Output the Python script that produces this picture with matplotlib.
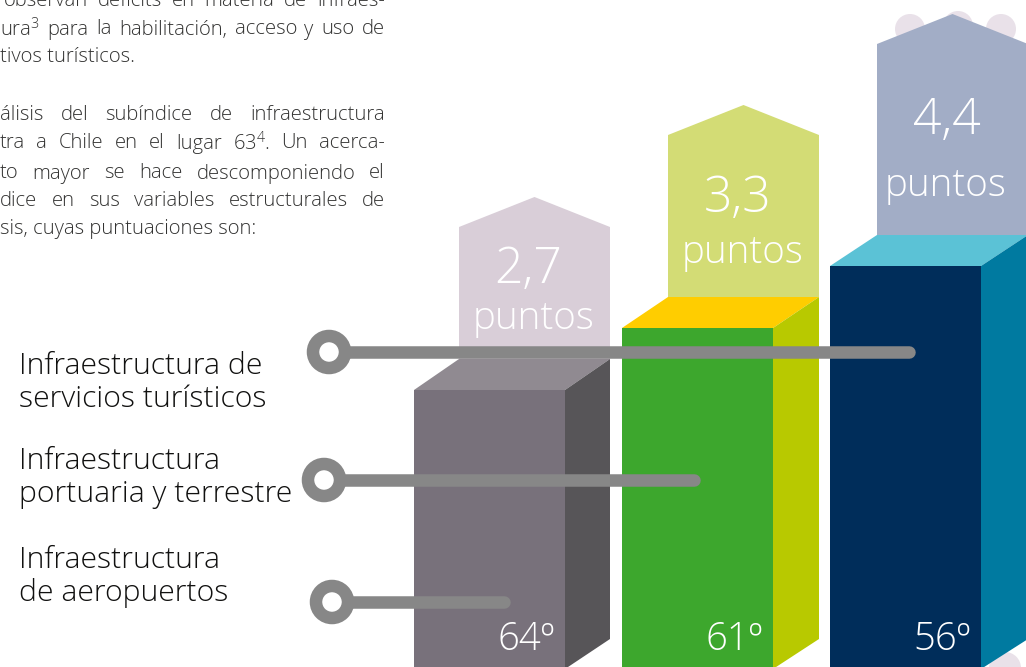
import matplotlib
matplotlib.use('Agg')
import matplotlib.pyplot as plt
from matplotlib.patches import Polygon, Circle

plt.rcParams['font.family'] = ['Open Sans', 'DejaVu Sans']
plt.rcParams['mathtext.default'] = 'regular'

# chart values
puntos = ['2,7', '3,3', '4,4']
rankings = ['64º', '61º', '56º']
bar_tops = [390, 328, 266]
bar_lefts = [414, 622, 830]
house_tops = [197, 105, 14]
house_bottoms = [360, 297, 235]
number_y = [270, 199, 121]
puntos_y = [319, 253, 186]
depths = [45, 46, 47]

front_colors = ['#78717b', '#3da72d', '#002d5a']
top_colors = ['#908a91', '#ffcd00', '#5bc2d6']
side_colors = ['#575558', '#b8c900', '#007aa0']
house_colors = ['#d9ced8', '#d3dc75', '#a2adc6']

labels = [['Infraestructura de', 'servicios turísticos'],
          ['Infraestructura', 'portuaria y terrestre'],
          ['Infraestructura', 'de aeropuertos']]
label_y = [366, 461, 560]
ring_x = [329, 324, 332]
ring_y = [352, 480, 602]
line_end = [909, 694, 504]

body_lines = [('observan déficits en materia de infraes-', 4, -2, True),
              ('ura$^{3}$  para la habilitación, acceso y uso de', 0, 27, True),
              ('tivos turísticos.', 0, 57, False),
              ('álisis del subíndice de infraestructura', 0, 112, True),
              ('tra a Chile en el lugar 63$^{4}$. Un acerca-', 0, 141, True),
              ('to mayor se hace descomponiendo el', 0, 171, True),
              ('dice en sus variables estructurales de', 0, 198, True),
              ('sis, cuyas puntuaciones son:', 0, 229, False)]
body_right = 385
body_size = 14.6

fig = plt.figure(figsize=(10.26, 6.67), dpi=100)
ax = fig.add_axes([0, 0, 1, 1])
ax.set_xlim(0, 1026)
ax.set_ylim(667, 0)
ax.axis('off')


def justified(text, x0, y, stretch):
    if not stretch:
        ax.text(x0, y, text, fontsize=body_size, color='#333332', va='center', ha='left', fontweight='light')
        return
    renderer = fig.canvas.get_renderer()
    words = text.split()
    items = [ax.text(x0, y, w, fontsize=body_size, color='#333332', va='center_baseline', ha='left',
                     fontweight='light') for w in words]
    widths = [t.get_window_extent(renderer).width for t in items]
    gap = (body_right - x0 - sum(widths)) / (len(words) - 1)
    x = x0
    for t, w in zip(items, widths):
        t.set_x(x)
        x += w + gap


for text, x0, y, stretch in body_lines:
    justified(text, x0, y, stretch)

# pale dots behind the tallest house and in the bottom corner
for cx, cy, r in [(910, 29, 15), (958, 26, 15), (1001, 29, 15), (1005, 668, 16)]:
    ax.add_patch(Circle((cx, cy), r, fc='#e9e1e9', ec='none', zorder=1))

depth_y = 31
width = 151
bottom = 697
for i in range(3):
    x0 = bar_lefts[i]
    x1 = x0 + width
    top = bar_tops[i]
    depth_x = depths[i]
    # house with the points
    hx0 = x0 + depth_x
    hx1 = x1 + depth_x
    hmid = (hx0 + hx1) / 2
    ax.add_patch(Polygon([(hx0, house_bottoms[i]), (hx0, house_tops[i] + 30), (hmid, house_tops[i]),
                          (hx1, house_tops[i] + 30), (hx1, house_bottoms[i])],
                         fc=house_colors[i], ec='none', zorder=2))
    ax.text(hmid - 6, number_y[i], puntos[i], fontsize=36, color='white', ha='center', va='center',
            fontweight='light', zorder=3)
    ax.text(hmid - 1 - (i == 2) * 6, puntos_y[i], 'puntos', fontsize=27.7, color='white', ha='center', va='center',
            fontweight='light', zorder=3)
    # box
    ax.add_patch(Polygon([(x0, top), (x0 + depth_x, top - depth_y), (x1 + depth_x, top - depth_y), (x1, top)],
                         fc=top_colors[i], ec='none', zorder=4))
    ax.add_patch(Polygon([(x1, top), (x1 + depth_x, top - depth_y), (x1 + depth_x, bottom - 58), (x1, bottom - 28)],
                         fc=side_colors[i], ec='none', zorder=4))
    ax.add_patch(Polygon([(x0, top), (x1, top), (x1, bottom), (x0, bottom)], fc=front_colors[i], ec='none', zorder=4))
    ax.text(x0 + 112, 640, rankings[i], fontsize=27.5, color='white', ha='center', va='center', fontweight='light',
            zorder=6)

for i in range(3):
    ax.plot([ring_x[i], line_end[i]], [ring_y[i], ring_y[i]], color='#878787', lw=9, solid_capstyle='round', zorder=5)
    ax.add_patch(Circle((ring_x[i], ring_y[i]), 16, fc='white', ec='#878787', lw=9, zorder=5))
    ax.text(19, label_y[i], labels[i][0], fontsize=21.7, color='#111110', va='center', ha='left', fontweight='light')
    ax.text(19, label_y[i] + 33, labels[i][1], fontsize=21.7, color='#111110', va='center', ha='left',
            fontweight='light')

fig.savefig('out.png', dpi=100)
